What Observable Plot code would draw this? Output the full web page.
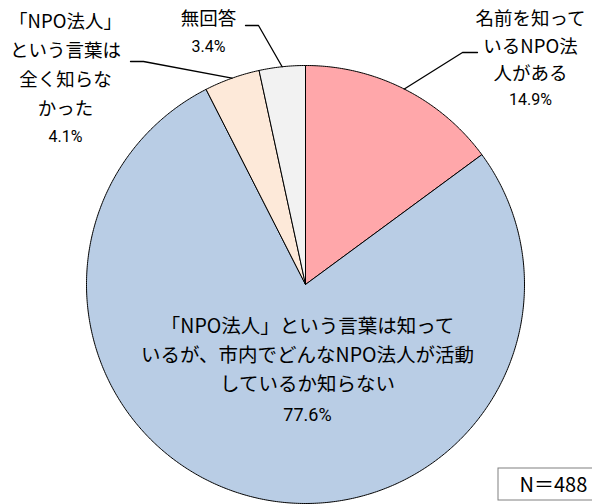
<!DOCTYPE html>
<html>
<head>
<meta charset="utf-8">
<script src="https://cdn.jsdelivr.net/npm/d3@7"></script>
<script src="https://cdn.jsdelivr.net/npm/@observablehq/plot@0.6"></script>
<style>
  html, body { margin: 0; padding: 0; background: #fff; overflow: hidden; }
  #chart svg { display: block; }
</style>
</head>
<body>
<div id="chart"></div>
<script>
// ---- data ----
const categories = [
  "名前を知っているNPO法人がある",
  "「NPO法人」という言葉は知っているが、市内でどんなNPO法人が活動しているか知らない",
  "「NPO法人」という言葉は全く知らなかった",
  "無回答"
];
const values = [14.9, 77.6, 4.1, 3.4];
const labelLines = [
  ["名前を知って", "いるNPO法", "人がある"],
  ["「NPO法人」という言葉は知って", "いるが、市内でどんなNPO法人が活動", "しているか知らない"],
  ["「NPO法人」", "という言葉は", "全く知らな", "かった"],
  ["無回答"]
];
const pctLabels = values.map(v => v.toFixed(1) + "%");
const sampleNote = "N＝488";

// ---- style / layout ----
const colors = ["#FFA7AA", "#B9CDE5", "#FDE9D9", "#F2F2F2"];
const W = 592, H = 504;
const cx = 305, cy = 284, R = 219;
const FONT = "'Noto Sans CJK JP', 'Noto Sans', sans-serif";
const PFONT = "'Liberation Sans Narrow', 'Roboto', 'Noto Sans', sans-serif";
const labelLayout = [
  {x: 530, y0: 19, step: 27.5, py: 99, fs: 18.5, pfs: 16, elbow: [[477, 52], [462, 52]]},
  {x: 307, y0: 326, step: 29, py: 415, fs: 19.5, pfs: 18, elbow: null},
  {x: 65, y0: 22, step: 29, py: 136, fs: 18.5, pfs: 16, elbow: [[130, 61], [143, 61]]},
  {x: 208, y0: 19, step: 27, py: 46, fs: 18.5, pfs: 16, elbow: [[245, 25], [258, 25]]}
];

// ---- pie geometry from values ----
const pie = d3.pie().sort(null).value(d => d)(values);
const polyPts = [];
pie.forEach((s, i) => {
  const a0 = s.startAngle, a1 = s.endAngle;
  const n = Math.max(2, Math.ceil((a1 - a0) / (Math.PI / 360)));
  polyPts.push({k: i, x: cx, y: cy});
  for (let j = 0; j <= n; j++) {
    const a = a0 + (a1 - a0) * j / n;
    polyPts.push({k: i, x: cx + R * Math.sin(a), y: cy - R * Math.cos(a)});
  }
  polyPts.push({k: i, x: cx, y: cy});
});

// leader lines: elbow -> mid-angle point on the rim
const leaderPts = [];
pie.forEach((s, i) => {
  const L = labelLayout[i];
  if (!L.elbow) return;
  const mid = (s.startAngle + s.endAngle) / 2;
  L.elbow.forEach(([x, y]) => leaderPts.push({k: i, x, y}));
  leaderPts.push({k: i, x: cx + R * Math.sin(mid), y: cy - R * Math.cos(mid)});
});

// text rows
const textRows = [], pctRows = [];
labelLines.forEach((lines, i) => {
  const L = labelLayout[i];
  lines.forEach((t, j) => textRows.push({x: L.x, y: L.y0 + j * L.step, text: t, fs: L.fs}));
  pctRows.push({x: L.x, y: L.py, text: pctLabels[i], fs: L.pfs});
});

const chart = Plot.plot({
  width: W,
  height: H,
  margin: 0,
  x: {domain: [0, W], range: [0, W], axis: null},
  y: {domain: [0, H], range: [0, H], axis: null},
  style: {fontFamily: FONT, background: "#fff", overflow: "hidden"},
  marks: [
    Plot.line(polyPts, {x: "x", y: "y", z: "k", fill: d => colors[d.k], stroke: "#000", strokeWidth: 1, strokeLinejoin: "round"}),
    Plot.line(leaderPts, {x: "x", y: "y", z: "k", stroke: "#000", strokeWidth: 1.3}),
    Plot.text(textRows, {x: "x", y: "y", text: "text", fontSize: d => d.fs, fill: "#000", textAnchor: "middle", lineAnchor: "middle"}),
    Plot.text(pctRows, {x: "x", y: "y", text: "text", fontSize: d => d.fs, fontFamily: PFONT, fill: "#000", textAnchor: "middle", lineAnchor: "middle"}),
    Plot.rect([sampleNote], {x1: () => 498, x2: () => 620, y1: () => 468, y2: () => 500, fill: "#fff", stroke: "#808080", strokeWidth: 1}),
    Plot.text([sampleNote], {x: () => 519, y: () => 485, text: d => d, fontSize: 20, textAnchor: "start", lineAnchor: "middle", fill: "#000"})
  ]
});
document.getElementById("chart").appendChild(chart);
</script>
</body>
</html>
